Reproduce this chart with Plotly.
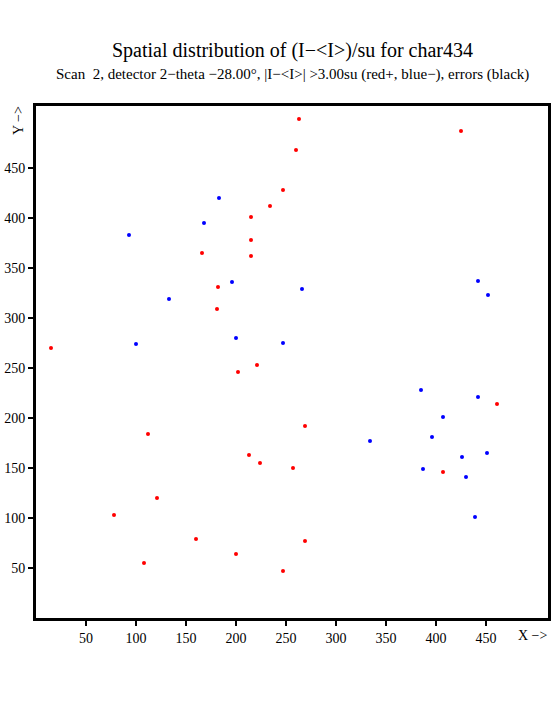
import plotly.graph_objects as go

# Positive deviations (red +)
red_x = [263, 260, 425, 247, 234, 215, 215, 215, 166, 182, 181, 15, 221, 202,
         461, 269, 112, 213, 224, 257, 407, 121, 78, 160, 200, 269, 108, 247]
red_y = [499, 468, 487, 428, 412, 401, 378, 362, 365, 331, 309, 270, 253, 246,
         214, 192, 184, 163, 155, 150, 146, 120, 103, 79, 64, 77, 55, 47]

# Negative deviations (blue -)
blue_x = [183, 168, 93, 196, 133, 266, 200, 100, 247, 442, 452, 385, 442, 407,
          396, 334, 451, 426, 387, 430, 439]
blue_y = [420, 395, 383, 336, 319, 329, 280, 274, 275, 337, 323, 228, 221, 201,
          181, 177, 165, 161, 149, 141, 101]

x_ticks = [50, 100, 150, 200, 250, 300, 350, 400, 450]
y_ticks = [50, 100, 150, 200, 250, 300, 350, 400, 450]

title = "Spatial distribution of (I\u2212&lt;I&gt;)/su for char434"
subtitle = ("Scan  2, detector 2\u2212theta \u221228.00\u00b0, |I\u2212&lt;I&gt;| &gt;3.00su "
            "(red+, blue\u2212), errors (black)")

FONT = "Liberation Serif"

fig = go.Figure()
fig.add_trace(go.Scatter(x=red_x, y=red_y, mode="markers",
                         marker=dict(color="#ff0000", size=4, line=dict(width=0)),
                         showlegend=False, hoverinfo="x+y"))
fig.add_trace(go.Scatter(x=blue_x, y=blue_y, mode="markers",
                         marker=dict(color="#0000ff", size=4, line=dict(width=0)),
                         showlegend=False, hoverinfo="x+y"))

axis_common = dict(showline=True, linewidth=3, linecolor="black", mirror=True,
                   showgrid=False, zeroline=False, ticks="outside", ticklen=5,
                   tickwidth=2, tickcolor="black", automargin=False,
                   tickfont=dict(family=FONT, size=14, color="black"))

fig.update_xaxes(range=[0, 512], tickvals=x_ticks, ticktext=[str(v) for v in x_ticks],
                 **axis_common)
fig.update_yaxes(range=[0, 512], tickvals=y_ticks, ticktext=[str(v) for v in y_ticks],
                 **axis_common)

fig.update_layout(
    width=555, height=725,
    margin=dict(l=36, r=7, t=106, b=107),
    paper_bgcolor="white", plot_bgcolor="white",
    font=dict(family=FONT, color="black"),
    annotations=[
        dict(text=title, xref="paper", yref="paper", x=0.5, y=1, yshift=56,
             showarrow=False, font=dict(family=FONT, size=20, color="black"),
             xanchor="center", yanchor="middle"),
        dict(text=subtitle, xref="paper", yref="paper", x=0.5, y=1, yshift=32,
             showarrow=False, font=dict(family=FONT, size=15, color="black"),
             xanchor="center", yanchor="middle"),
        dict(text="Y \u2212>", xref="paper", yref="paper", x=0, y=1, xshift=-18, yshift=-15,
             textangle=-90, showarrow=False, font=dict(family=FONT, size=14, color="black"),
             xanchor="center", yanchor="middle"),
        dict(text="X \u2212>", xref="paper", yref="paper", x=1, y=0, xshift=-15, yshift=-17,
             showarrow=False, font=dict(family=FONT, size=14, color="black"),
             xanchor="center", yanchor="middle"),
    ],
)

fig.write_html("out.html", config={"displayModeBar": False},
               post_script="document.body.style.margin='0';")
